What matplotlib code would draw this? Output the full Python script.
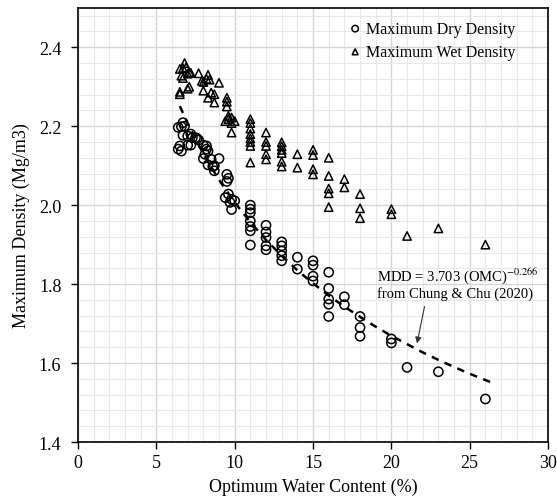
import numpy as np
import matplotlib
matplotlib.use('Agg')
import matplotlib.pyplot as plt
from matplotlib.ticker import MultipleLocator

plt.rcParams['font.family'] = ['Liberation Serif', 'DejaVu Serif']
plt.rcParams['mathtext.fontset'] = 'stix'

# maximum dry density (OMC %, Mg/m3)
dry_omc = [6.4, 6.6, 6.7, 6.8, 6.5, 6.6, 6.4, 6.7, 7.0, 7.2, 7.3, 7.6, 7.0, 7.2,
           7.5, 7.7, 8.0, 8.2, 8.3, 8.2, 8.1, 8.0, 8.5, 8.3, 8.7, 8.6, 8.7, 9.0,
           9.5, 9.6, 9.5, 9.4, 9.6, 9.8, 9.7, 10.0, 9.8,
           11, 11, 11, 11, 11, 11, 11, 12, 12, 12, 12, 12, 13, 13, 13, 13, 13,
           14, 14, 15, 15, 15, 15, 16, 16, 16, 16, 16, 17, 17, 18, 18, 18,
           20, 20, 21, 23, 26]
dry_mdd = [2.197, 2.199, 2.209, 2.200, 2.150, 2.137, 2.142, 2.177, 2.175, 2.180,
           2.171, 2.169, 2.152, 2.152, 2.171, 2.165, 2.152, 2.150, 2.137, 2.142,
           2.129, 2.118, 2.116, 2.102, 2.100, 2.098, 2.087, 2.118,
           2.078, 2.068, 2.060, 2.019, 2.028, 2.015, 2.007, 2.011, 1.989,
           2.000, 1.990, 1.981, 1.960, 1.946, 1.935, 1.899,
           1.949, 1.932, 1.918, 1.897, 1.887,
           1.907, 1.897, 1.884, 1.872, 1.859,
           1.868, 1.838, 1.859, 1.848, 1.820, 1.808,
           1.830, 1.789, 1.762, 1.749, 1.718, 1.768, 1.748,
           1.718, 1.690, 1.668, 1.661, 1.651, 1.589, 1.578, 1.509]

# maximum wet density
wet_omc = [6.8, 6.5, 6.7, 6.9, 7.1, 7.2, 7.0, 6.7, 6.6, 7.7, 7.9, 8.0, 8.3, 8.2,
           8.4, 9.0, 7.1, 7.0, 6.5, 6.5, 8.0, 8.5, 8.7, 8.3, 8.7, 9.5, 9.5, 9.5,
           9.4, 9.6, 9.8, 10.0, 9.8, 9.8, 9.6,
           11, 11, 11, 11, 11, 11, 11, 11, 12, 12, 12, 12, 12,
           13, 13, 13, 13, 13, 13, 14, 14, 15, 15, 15, 15,
           16, 16, 16, 16, 16, 17, 17, 18, 18, 18, 20, 20, 21, 23, 26]
wet_mdd = [2.360, 2.345, 2.347, 2.349, 2.337, 2.335, 2.333, 2.322, 2.328, 2.334,
           2.315, 2.312, 2.330, 2.320, 2.318, 2.310, 2.300, 2.295, 2.287, 2.281,
           2.290, 2.285, 2.281, 2.272, 2.260, 2.272, 2.262, 2.250,
           2.213, 2.218, 2.222, 2.213, 2.208, 2.184, 2.226,
           2.218, 2.208, 2.194, 2.180, 2.169, 2.160, 2.150, 2.108,
           2.184, 2.160, 2.150, 2.129, 2.116,
           2.159, 2.149, 2.140, 2.132, 2.110, 2.098, 2.129, 2.095,
           2.140, 2.127, 2.091, 2.078,
           2.120, 2.074, 2.042, 2.030, 1.995, 2.066, 2.045,
           2.028, 1.992, 1.967, 1.990, 1.977, 1.922, 1.941, 1.900]

# Chung & Chu (2020) curve
fit_omc = [6.5, 7, 8, 9, 10, 11, 12, 13, 14, 15, 16, 17, 18, 19, 20, 21, 22, 23, 24, 25, 26.5]
fit_mdd = [2.251, 2.207, 2.130, 2.064, 2.007, 1.957, 1.912, 1.872, 1.835, 1.802, 1.771,
           1.743, 1.717, 1.692, 1.669, 1.648, 1.627, 1.608, 1.590, 1.573, 1.549]

fig = plt.figure(figsize=(5.57, 5.02), dpi=100)
ax = fig.add_axes([0.140, 0.1175, 0.844, 0.865])

ax.set_xlim(0, 30)
ax.set_ylim(1.4, 2.5)
ax.xaxis.set_major_locator(MultipleLocator(5))
ax.xaxis.set_minor_locator(MultipleLocator(1))
ax.yaxis.set_major_locator(MultipleLocator(0.2))
ax.yaxis.set_minor_locator(MultipleLocator(0.04))
ax.set_yticks([1.4, 1.6, 1.8, 2.0, 2.2, 2.4])
ax.set_yticklabels(['1.4', '1.6', '1.8', '2.0', '2.2', '2.4'])

ax.grid(which='minor', color='#e8e8e8', lw=0.8, zorder=0)
ax.grid(which='major', color='#d6d6d6', lw=1.0, zorder=0)
ax.set_axisbelow(True)

ax.scatter(dry_omc, dry_mdd, s=44, marker='o', facecolors='none',
           edgecolors='black', linewidths=1.1, label='Maximum Dry Density', zorder=3)
ax.scatter(wet_omc, wet_mdd, s=36, marker='^', facecolors='none',
           edgecolors='black', linewidths=1.1, label='Maximum Wet Density', zorder=3)
ax.plot(fit_omc, fit_mdd, color='black', lw=1.8, linestyle=(0, (3, 2.6)), zorder=4)

ax.text(19.1, 1.805, 'MDD = 3.703 (OMC)$^{-0.266}$\nfrom Chung & Chu (2020)',
        fontsize=10.5, ha='left', va='center', linespacing=1.1)
ax.annotate('', xy=(21.6, 1.643), xytext=(22.15, 1.75),
            arrowprops=dict(arrowstyle='-|>', color='#333333', lw=0.8,
                            mutation_scale=9))

ax.legend(loc='upper left', bbox_to_anchor=(0.576, 0.97), frameon=False,
          fontsize=11.5, markerscale=0.7, handlelength=0.8, handletextpad=0.3,
          borderpad=0, borderaxespad=0, labelspacing=0.45)

ax.set_xlabel('Optimum Water Content (%)', fontsize=13, labelpad=5)
ax.set_ylabel('Maximum Density (Mg/m3)', fontsize=13, labelpad=6)
ax.tick_params(which='major', direction='out', length=5, width=1, labelsize=13,
               color='black', top=False, right=False)
ax.tick_params(axis='y', which='major', pad=7)
ax.tick_params(which='minor', length=0)
for sp in ax.spines.values():
    sp.set_linewidth(1.2)
    sp.set_color('black')

fig.savefig('out.png', dpi=100)
